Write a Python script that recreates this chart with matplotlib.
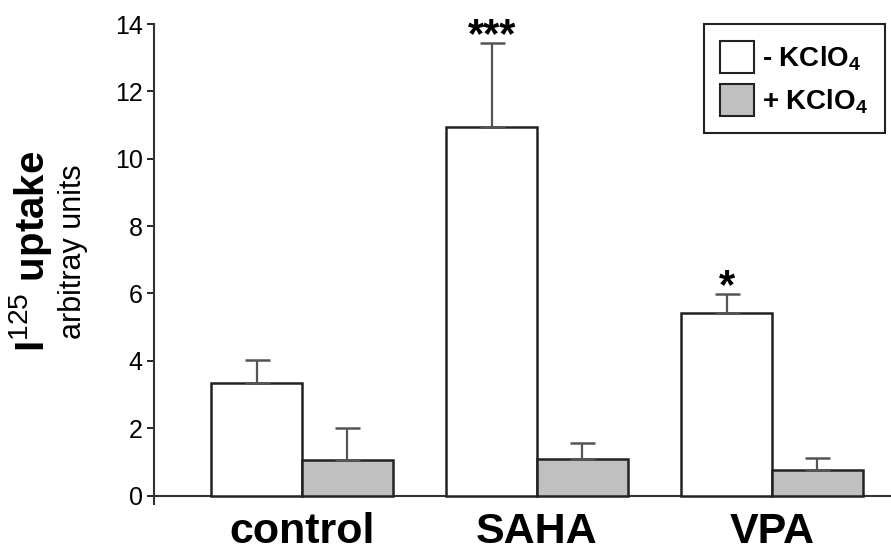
import matplotlib
matplotlib.use("Agg")
import matplotlib.pyplot as plt
from matplotlib.patches import Patch
import numpy as np

plt.rcParams['font.family'] = ['Liberation Sans', 'DejaVu Sans']
plt.rcParams['mathtext.fontset'] = 'custom'
plt.rcParams['mathtext.rm'] = 'Liberation Sans'
plt.rcParams['mathtext.bf'] = 'Liberation Sans:bold'

# data
groups = ['control', 'SAHA', 'VPA']
minus_kclo4 = [3.35, 10.95, 5.43]
minus_err = [0.67, 2.48, 0.54]
plus_kclo4 = [1.07, 1.10, 0.76]
plus_err = [0.95, 0.45, 0.36]
stars = ['', '***', '*']

fig = plt.figure(figsize=(8.91, 5.53), dpi=100)
ax = fig.add_axes([0.1728, 0.0886, 0.8272, 0.868])

x = np.arange(len(groups))
w = 0.386

ax.bar(x - w / 2, minus_kclo4, w, color='white', edgecolor='#222222', linewidth=1.8,
       yerr=[np.zeros(3), minus_err], capsize=9,
       error_kw=dict(ecolor='#555555', elinewidth=1.6, capthick=1.8), zorder=3)
ax.bar(x + w / 2, plus_kclo4, w, color='#c0c0c0', edgecolor='#222222', linewidth=1.8,
       yerr=[np.zeros(3), plus_err], capsize=9,
       error_kw=dict(ecolor='#555555', elinewidth=1.6, capthick=1.8), zorder=3)

for i, s in enumerate(stars):
    if s:
        ax.text(x[i] - w / 2, minus_kclo4[i] + minus_err[i] - 0.38, s,
                ha='center', va='bottom', fontsize=30, fontweight='bold')

ax.set_xlim(-0.63, 2.506)
ax.set_ylim(-0.25, 14)
ax.set_yticks(range(0, 15, 2))
ax.spines['top'].set_visible(False)
ax.spines['right'].set_visible(False)
ax.spines['bottom'].set_position(('data', 0))
ax.spines['left'].set_bounds(-0.25, 14)
for sp in ['left', 'bottom']:
    ax.spines[sp].set_linewidth(1.5)
    ax.spines[sp].set_color('#333333')
ax.tick_params(axis='y', labelsize=18, length=5, width=1.2, pad=3)
ax.tick_params(axis='x', length=0, pad=12)
ax.set_xticks(x)
ax.set_xticklabels(groups, fontsize=31, fontweight='bold')

fig.text(0.034, 0.545, r'I$^{\mathrm{125}}$ uptake', rotation=90,
         ha='center', va='center', fontsize=29, fontweight='bold')
fig.text(0.082, 0.545, 'arbitray units', rotation=90,
         ha='center', va='center', fontsize=22)

handles = [Patch(facecolor='white', edgecolor='#222222', linewidth=1.5),
           Patch(facecolor='#c0c0c0', edgecolor='#222222', linewidth=1.5)]
leg = fig.legend(handles, [r'- KClO$_{\mathbf{4}}$', r'+ KClO$_{\mathbf{4}}$'],
                 loc='upper right', bbox_to_anchor=(0.9933, 0.9566),
                 borderaxespad=0,
                 prop={'size': 20, 'weight': 'bold'}, fancybox=False,
                 handlelength=1.2, handleheight=1.4, handletextpad=0.3,
                 borderpad=0.6, labelspacing=0.4, framealpha=1)
leg.get_frame().set_edgecolor('#222222')
leg.get_frame().set_linewidth(1.5)

fig.savefig('out.png', dpi=100)
